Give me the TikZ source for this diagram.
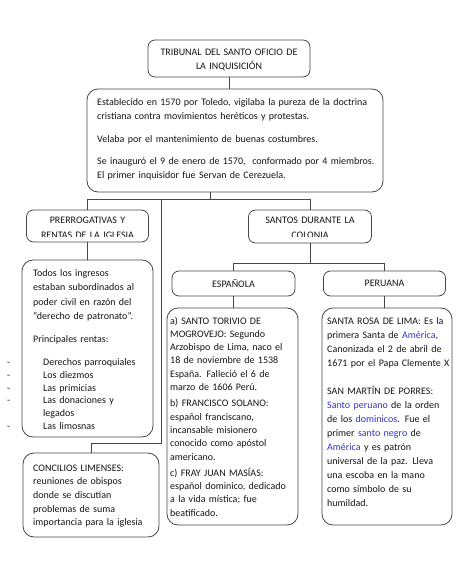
\documentclass[tikz,border=0pt]{standalone}
\usepackage{fontspec}
\setmainfont{Carlito}[WordSpace=0.85]
\definecolor{lc}{RGB}{70,70,70}
\definecolor{tc}{RGB}{20,20,20}
\definecolor{lk}{RGB}{50,50,205}
\newcommand{\lnk}[1]{\textcolor{lk}{#1}}
\newcommand{\jl}[1]{\makebox[\linewidth][s]{#1}}
\newcommand{\dashitem}[1]{\leavevmode\llap{-\hspace{23pt}}\hspace*{10pt}#1}
\begin{document}
\begin{tikzpicture}[x=1pt,y=-1pt,
 box/.style={draw=lc, line width=0.8pt, rounded corners=7pt, inner sep=0pt, text=tc, font=\fontsize{10}{13}\selectfont},
 bigbox/.style={box, rounded corners=11pt},
 txt/.style={inner sep=0pt, anchor=base west, align=left, text=tc, font=\fontsize{10}{14}\selectfont},
 conn/.style={draw=lc, line width=0.8pt}]
\useasboundingbox (0,0) rectangle (474,580);

% boxes
\node[box, minimum width=162pt, minimum height=37pt] (title) at (229,58.5) {};
\node[bigbox, minimum width=296pt, minimum height=103pt] (main) at (235,140.5) {};
\node[box, minimum width=122pt, minimum height=32pt] (prer) at (87.5,226) {};
\node[box, minimum width=123pt, minimum height=33pt] (santos) at (310,226.5) {};
\node[box, minimum width=123pt, minimum height=25pt] (esp) at (233.5,283.5) {ESPAÑOLA};
\node[box, minimum width=122pt, minimum height=25pt] (per) at (384.5,283.5) {PERUANA};
\node[bigbox, minimum width=131pt, minimum height=177pt] (left) at (87.5,348.5) {};
\node[bigbox, minimum width=136pt, minimum height=84pt] (concil) at (91,495) {};
\node[bigbox, minimum width=131pt, minimum height=217pt] (espB) at (232.5,416.5) {};
\node[bigbox, minimum width=130pt, minimum height=217pt] (perB) at (387,416.5) {};

% texts
\node[txt, anchor=base, align=center, text width=160pt] (titleT) at (229,55.5)
 {TRIBUNAL DEL SANTO OFICIO DE\\LA INQUISICIÓN};
\node[txt, text width=300pt] (mainT) at (97,106)
 {Establecido en 1570 por Toledo, vigilaba la pureza de la doctrina\\
  cristiana contra movimientos heréticos y protestas.\\[9pt]
  Velaba por el mantenimiento de buenas costumbres.\\[8pt]
  Se inauguró el 9 de enero de 1570,\ \ conformado por 4 miembros.\\
  El primer inquisidor fue Servan de Cerezuela.};
\begin{scope}
 \clip (20,205) rectangle (155,236.5);
 \node[txt, anchor=base, align=center, text width=120pt, font=\fontsize{10}{15}\selectfont] (prerT) at (87.5,223.5)
  {PRERROGATIVAS Y\\RENTAS DE LA IGLESIA};
\end{scope}
\begin{scope}
 \clip (240,205) rectangle (380,236.5);
 \node[txt, anchor=base, align=center, text width=120pt, font=\fontsize{10}{15}\selectfont] (santosT) at (310,223.5)
  {SANTOS DURANTE LA\\COLONIA};
\end{scope}
\node[txt, text width=125pt, font=\fontsize{10}{14.5}\selectfont] (leftT) at (33,276)
 {Todos los ingresos\\
  estaban subordinados al\\
  poder civil en razón del\\
  “derecho de patronato”.\\[8.5pt]
  Principales rentas:\\[8.5pt]
  \dashitem{Derechos parroquiales}\\[-1.7pt]
  \dashitem{Los diezmos}\\[-1.7pt]
  \dashitem{Las primicias}\\[-1.7pt]
  \dashitem{Las donaciones y}\\[-1.7pt]
  \leavevmode\hspace*{10pt}legados\\[-1.7pt]
  \dashitem{Las limosnas}};
\node[txt, text width=125pt, font=\fontsize{10}{13.7}\selectfont] (concilT) at (33,471)
 {CONCILIOS LIMENSES:\\
  reuniones de obispos\\
  donde se discutían\\
  problemas de suma\\
  importancia para la iglesia};
\node[txt, text width=125pt, font=\fontsize{10}{13.3}\selectfont] (espT) at (170,324)
 {\jl{a) SANTO TORIVIO DE}\\
  \jl{MOGROVEJO: Segundo}\\
  \jl{Arzobispo de Lima, naco el}\\
  \jl{18 de noviembre de 1538}\\
  \jl{España. Falleció el 6 de}\\
  marzo de 1606 Perú.\\[3pt]
  \jl{b) FRANCISCO SOLANO:}\\
  \jl{español franciscano,}\\
  \jl{incansable misionero}\\
  \jl{conocido como apóstol}\\
  americano.\\[3pt]
  \jl{c) FRAY JUAN MASÍAS:}\\
  \jl{español dominico, dedicado}\\
  \jl{a la vida mística; fue}\\
  beatificado.};
\node[txt, text width=130pt] (perT) at (327,324)
 {SANTA ROSA DE LIMA:\ Es la\\
  primera Santa de \lnk{América},\\
  Canonizada el 2 de abril de\\
  1671\ por el Papa Clemente X\\[14pt]
  SAN MARTÍN DE PORRES:\\
  \lnk{Santo peruano} de la orden\\
  de los \lnk{dominicos}. Fue el\\
  primer \lnk{santo negro} de\\
  \lnk{América} y es patrón\\
  universal de la paz. Lleva\\
  una escoba en la mano\\
  como símbolo de su\\
  humildad.};

% connectors
\coordinate (jm) at (210,199);
\coordinate (jl) at (88,199);
\coordinate (vt) at (161,199);
\coordinate (vb) at (161,443);
\coordinate (js) at (310,263);
\draw[conn] (title.south) -- (title.south |- main.north);
\draw[conn] (main.south -| jm) -- (jm);
\draw[conn] (prer.north) -- (prer.north |- jl) -- (santos.north |- jl) -- (santos.north);
\draw[conn] (vt) -- (vb) -| (concil.north);
\draw[conn] (prer.south) -- (prer.south |- left.north);
\draw[conn] (santos.south) -- (santos.south |- js);
\draw[conn] (esp.north) -- (esp.north |- js) -- (per.north |- js) -- (per.north);
\draw[conn] (esp.south) -- (esp.south |- espB.north);
\draw[conn] (per.south) -- (per.south |- perB.north);
\end{tikzpicture}
\end{document}
